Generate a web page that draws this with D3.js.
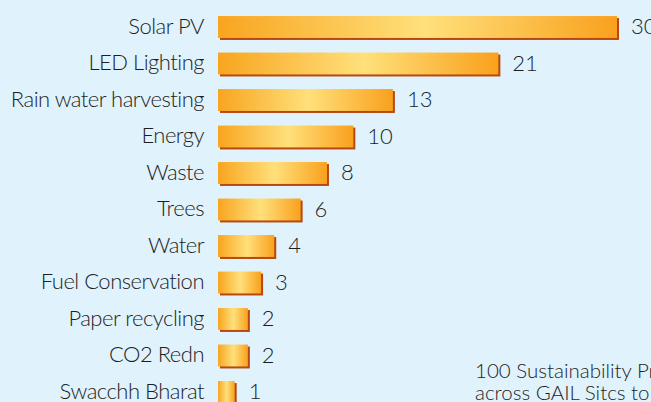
<!DOCTYPE html>
<html>
<head>
<meta charset="utf-8">
<script src="https://cdn.jsdelivr.net/npm/d3@7"></script>
<style>
  html, body { margin: 0; padding: 0; background: #e0f2fc; overflow: hidden; }
  svg { display: block; }
</style>
</head>
<body>
<script>
const categories = ['Solar PV', 'LED Lighting', 'Rain water harvesting', 'Energy', 'Waste',
  'Trees', 'Water', 'Fuel Conservation', 'Paper recycling', 'CO2 Redn', 'Swacchh Bharat'];
const projects = [30, 21, 13, 10, 8, 6, 4, 3, 2, 2, 1];
const noteLines = ['100 Sustainability Projects', 'across GAIL Sitcs to'];

const width = 651;
const height = 402;
const FONT = 'Lato, sans-serif';

const svg = d3.select('body').append('svg')
  .attr('width', width)
  .attr('height', height);

svg.append('rect')
  .attr('width', width)
  .attr('height', height)
  .attr('fill', '#e0f2fc');

const grad = svg.append('defs').append('linearGradient')
  .attr('id', 'barGrad')
  .attr('x1', '0%').attr('x2', '100%')
  .attr('y1', '0%').attr('y2', '0%');
grad.append('stop').attr('offset', '0%').attr('stop-color', '#f8a51f');
grad.append('stop').attr('offset', '52%').attr('stop-color', '#ffe07b');
grad.append('stop').attr('offset', '100%').attr('stop-color', '#f9a11d');

const x = d3.scaleLinear()
  .domain([0, 30])
  .range([221.5, 617]);

// bars start a few px left of the value zero
const barStart = x(0) - 3.5;

const y = d3.scaleBand()
  .domain(categories)
  .range([8.75, 8.75 + 36.5 * categories.length])
  .paddingInner(0.4)
  .paddingOuter(0.2);

const data = categories.map((c, i) => ({ name: c, value: projects[i] }));

const rows = svg.append('g')
  .selectAll('g')
  .data(data)
  .join('g');

// drop shadow
rows.append('rect')
  .attr('x', barStart + 2)
  .attr('y', d => y(d.name) + 2)
  .attr('width', d => x(d.value) - barStart)
  .attr('height', y.bandwidth())
  .attr('fill', '#b9470f');

rows.append('rect')
  .attr('x', barStart)
  .attr('y', d => y(d.name))
  .attr('width', d => x(d.value) - barStart)
  .attr('height', y.bandwidth())
  .attr('fill', 'url(#barGrad)');

rows.append('text')
  .attr('x', 204)
  .attr('y', d => y(d.name) + y.bandwidth() / 2)
  .attr('dy', '0.3em')
  .attr('text-anchor', 'end')
  .attr('font-family', FONT)
  .attr('font-weight', 300)
  .attr('font-size', 22)
  .attr('letter-spacing', -0.5)
  .attr('fill', '#1e1e1e')
  .text(d => d.name);

rows.append('text')
  .attr('x', d => x(d.value) + 14)
  .attr('y', d => y(d.name) + y.bandwidth() / 2)
  .attr('dy', '0.33em')
  .attr('font-family', FONT)
  .attr('font-weight', 300)
  .attr('font-size', 22)
  .attr('fill', '#1e1e1e')
  .text(d => d.value);

svg.append('g')
  .selectAll('text')
  .data(noteLines)
  .join('text')
    .attr('x', 475)
    .attr('y', (d, i) => 378 + i * 22)
    .attr('font-family', FONT)
    .attr('font-weight', 300)
    .attr('font-size', 20.5)
    .attr('fill', '#1e1e1e')
    .text(d => d);
</script>
</body>
</html>
